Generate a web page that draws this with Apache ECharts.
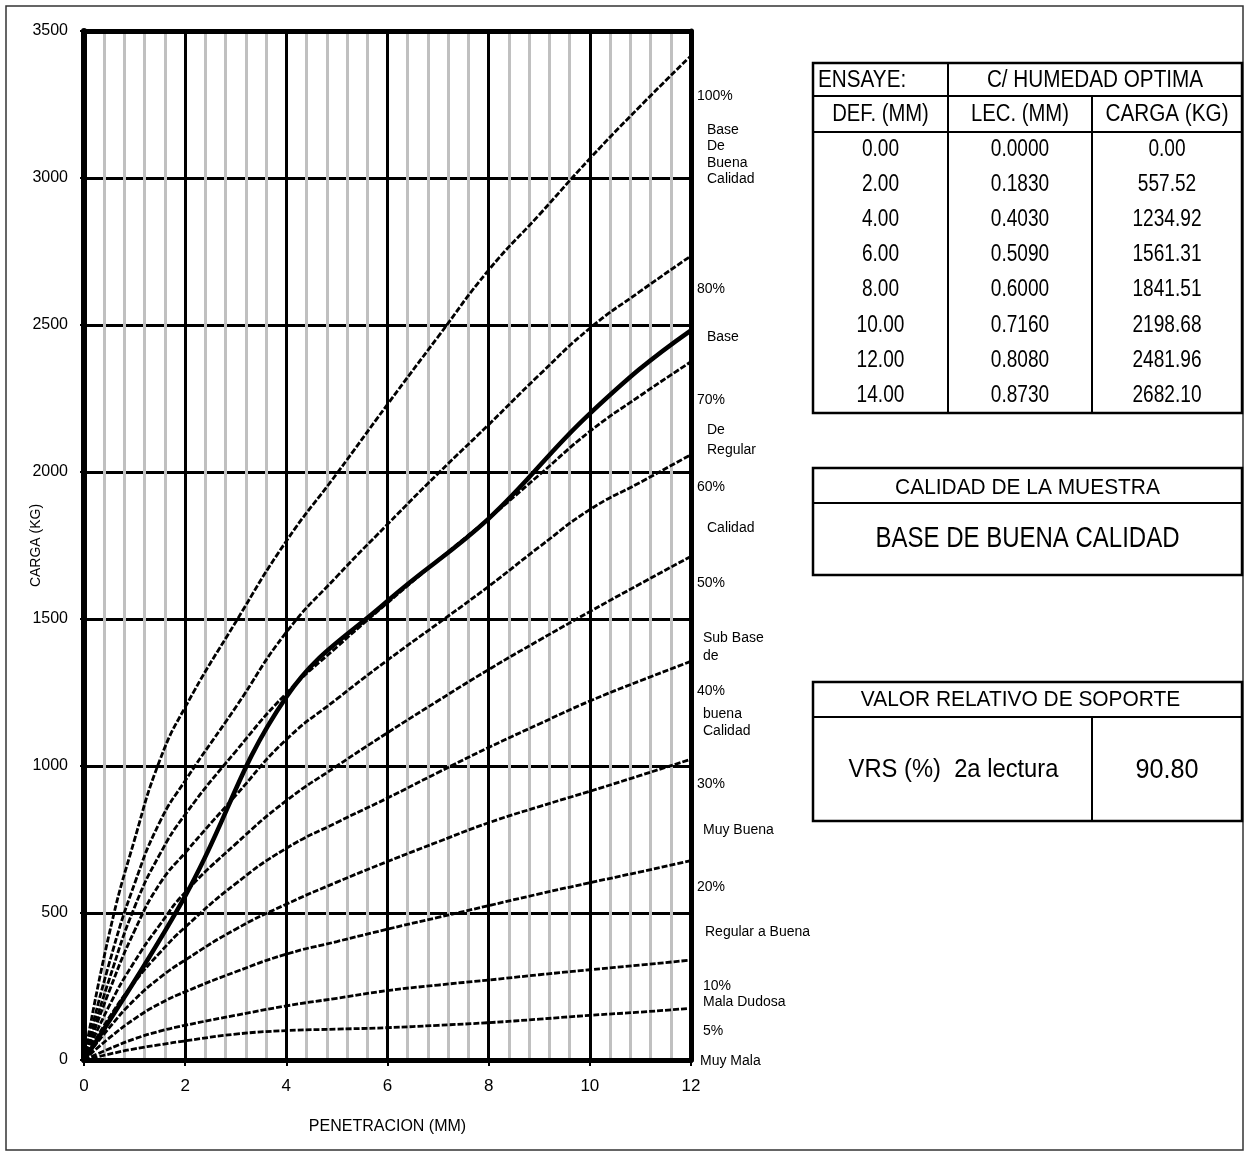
<!DOCTYPE html>
<html>
<head>
<meta charset="utf-8">
<script src="https://cdn.jsdelivr.net/npm/echarts@6/dist/echarts.min.js"></script>
<style>
html,body{margin:0;padding:0;background:#fff;}
#c{width:1249px;height:1156px;}
</style>
</head>
<body>
<div id="c"></div>
<script>
// ---------- DATA ----------
const penetracion = [0, 0.5, 1, 1.5, 2, 3, 4, 5, 6, 7, 8, 9, 10, 11, 12];
const curva100 = [0, 430, 750, 1020, 1200, 1490, 1765, 1995, 2230, 2460, 2687, 2875, 3066, 3245, 3416];
const curva80  = [0, 330, 600, 810, 950, 1200, 1455, 1645, 1822, 1995, 2161, 2330, 2489, 2615, 2735];
const curva70  = [0, 275, 520, 700, 835, 1050, 1247, 1405, 1555, 1700, 1842, 1990, 2138, 2260, 2375];
const curva60  = [0, 235, 440, 600, 705, 900, 1090, 1228, 1360, 1485, 1611, 1745, 1872, 1965, 2059];
const curva50  = [0, 185, 335, 460, 570, 735, 882, 1000, 1113, 1222, 1328, 1428, 1525, 1620, 1713];
const curva40  = [0, 145, 265, 365, 452, 600, 720, 808, 891, 978, 1063, 1143, 1221, 1290, 1356];
const curva30  = [0, 110, 205, 280, 340, 445, 530, 605, 675, 742, 807, 862, 914, 968, 1023];
const curva20  = [0, 75, 140, 192, 232, 300, 360, 403, 445, 485, 525, 565, 603, 640, 678];
const curva10  = [0, 38, 72, 98, 118, 152, 184, 210, 236, 255, 272, 290, 307, 323, 340];
const curva5   = [0, 20, 38, 52, 65, 88, 100, 105, 110, 118, 127, 139, 152, 163, 176];

const defMM   = [0, 2, 4, 6, 8, 10, 12, 14];
const lecMM   = [0.0000, 0.1830, 0.4030, 0.5090, 0.6000, 0.7160, 0.8080, 0.8730];
const cargaKG = [0.00, 557.52, 1234.92, 1561.31, 1841.51, 2198.68, 2481.96, 2682.10];

const ensaye = 'C/ HUMEDAD OPTIMA';
const calidad = 'BASE DE BUENA CALIDAD';
const vrs = '90.80';

const xTitle = 'PENETRACION (MM)';
const yTitle = 'CARGA (KG)';

// ---------- LAYOUT / STYLE ----------
const FONT = "'Liberation Sans',Arial,sans-serif";
const chart = echarts.init(document.getElementById('c'), null, {renderer:'canvas'});

const refCurves = [curva100, curva80, curva70, curva60, curva50, curva40, curva30, curva20, curva10, curva5];
const series = refCurves.map(arr => ({
  type:'line', smooth:true, symbol:'none', silent:true, z:5, clip:true,
  xAxisIndex:0, yAxisIndex:0,
  lineStyle:{color:'#000', width:2.8, type:[6,2]},
  data: penetracion.map((x,i)=>[x, arr[i]])
}));
series.push({
  type:'line', smooth:0.4, symbol:'none', silent:true, z:6, clip:true,
  xAxisIndex:0, yAxisIndex:0,
  lineStyle:{color:'#000', width:4.5},
  data: defMM.map((d,i)=>[d, cargaKG[i]])
});

// right-side labels (text, left x, center y)
const sideLabels = [
  ['100%',697,96],['Base',707,130],['De',707,146],['Buena',707,163],['Calidad',707,179],
  ['80%',697,289],['Base',707,337],['70%',697,400],['De',707,430],['Regular',707,450],
  ['60%',697,487],['Calidad',707,528],['50%',697,583],['Sub Base',703,638],['de',703,656],
  ['40%',697,691],['buena',703,714],['Calidad',703,731],['30%',697,784],['Muy Buena',703,830],
  ['20%',697,887],['Regular a Buena',705,932],['10%',703,986],['Mala Dudosa',703,1002],
  ['5%',703,1031],['Muy Mala',700,1061]
];

const g = [];
function txt(t,x,y,size,align,sx){
  g.push({type:'text', z:10, x:x, y:y, scaleX:sx||1, scaleY:1,
    style:{text:t, x:0, y:0, fill:'#000', font:size+'px '+FONT,
    textAlign:align||'center', textVerticalAlign:'middle', align:align||'center', verticalAlign:'middle'}});
}
function ln(x1,y1,x2,y2,w){
  g.push({type:'line', z:10, shape:{x1:x1,y1:y1,x2:x2,y2:y2}, style:{stroke:'#000', lineWidth:w||2}});
}
function box(x,y,w,h,lw){
  g.push({type:'rect', z:10, shape:{x:x,y:y,width:w,height:h}, style:{fill:'none', stroke:'#000', lineWidth:lw||2}});
}
// outer frame
g.push({type:'rect', z:0, shape:{x:6,y:6,width:1237,height:1144}, style:{fill:'none', stroke:'#333', lineWidth:1.5}});

sideLabels.forEach(s=>txt(s[0], s[1], s[2], 14, 'left', 1));

// table 1
const L=813, C1=948, C2=1092, R=1242;
box(L,63,R-L,413-63,2.5);
ln(L,96,R,96,2); ln(L,132,R,132,2);
ln(C1,63,C1,413,2); ln(C2,96,C2,413,2);
txt('ENSAYE:', 818, 81, 23, 'left', 0.9);
txt(ensaye, (C1+R)/2, 81, 23, 'center', 0.9);
txt('DEF. (MM)', (L+C1)/2, 115, 23, 'center', 0.88);
txt('LEC. (MM)', (C1+C2)/2, 115, 23, 'center', 0.88);
txt('CARGA (KG)', (C2+R)/2, 115, 23, 'center', 0.9);
const rowH = (413-132)/defMM.length;
defMM.forEach((d,i)=>{
  const y = 132 + rowH*(i+0.5);
  txt(d.toFixed(2), (L+C1)/2, y, 23, 'center', 0.83);
  txt(lecMM[i].toFixed(4), (C1+C2)/2, y, 23, 'center', 0.83);
  txt(cargaKG[i].toFixed(2), (C2+R)/2, y, 23, 'center', 0.83);
});
// table 2
box(L,468,R-L,575-468,2.5); ln(L,503,R,503,2);
txt('CALIDAD DE LA MUESTRA', (L+R)/2, 488, 22, 'center', 0.95);
txt(calidad, (L+R)/2, 539, 30, 'center', 0.8);
// table 3
box(L,682,R-L,821-682,2.5); ln(L,717,R,717,2); ln(C2,717,C2,821,2);
txt('VALOR RELATIVO DE SOPORTE', (L+R)/2-7, 700, 22, 'center', 0.95);
txt('VRS (%)  2a lectura', (L+C2)/2+1, 770, 25, 'center', 0.95);
txt(vrs, (C2+R)/2, 770, 28, 'center', 0.9);

const option = {
  animation:false,
  backgroundColor:'#fff',
  grid:{left:84, top:31, width:607, height:1029, containLabel:false},
  xAxis:[
    {type:'value', min:0, max:12, interval:2, position:'bottom', z:3,
     axisLine:{show:true, onZero:false, lineStyle:{color:'#000', width:5}},
     axisTick:{show:true, length:6, lineStyle:{color:'#000', width:2}},
     axisLabel:{color:'#000', fontSize:17, fontFamily:FONT, margin:18},
     splitLine:{show:true, lineStyle:{color:'#000', width:3}},
     name:xTitle, nameLocation:'middle', nameGap:59, nameMoveOverlap:false,
     nameTextStyle:{color:'#000', fontSize:16, fontFamily:FONT}},
    {type:'value', min:0, max:12, interval:0.4, position:'bottom', z:2,
     axisLine:{show:false}, axisTick:{show:false}, axisLabel:{show:false},
     splitLine:{show:true, lineStyle:{color:'#c0c0c0', width:3}}},
    {type:'value', min:0, max:12, interval:2, position:'top', z:4,
     axisLine:{show:true, onZero:false, lineStyle:{color:'#000', width:5}},
     axisTick:{show:false}, axisLabel:{show:false}, splitLine:{show:false}}
  ],
  yAxis:[
    {type:'value', min:0, max:3500, interval:500, position:'left', z:1,
     axisLine:{show:false}, axisTick:{show:false},
     axisLabel:{color:'#000', fontSize:16, fontFamily:FONT, margin:16, formatter:v=>String(v)},
     splitLine:{show:true, lineStyle:{color:'#000', width:3}},
     name:yTitle, nameLocation:'middle', nameGap:41, nameMoveOverlap:false,
     nameTextStyle:{color:'#000', fontSize:14, fontFamily:FONT}},
    {type:'value', min:0, max:3500, interval:500, position:'left', z:4,
     axisLine:{show:true, onZero:false, lineStyle:{color:'#000', width:6}},
     axisTick:{show:true, length:4, lineStyle:{color:'#000', width:2}},
     axisLabel:{show:false}, splitLine:{show:false}},
    {type:'value', min:0, max:3500, interval:500, position:'right', z:4,
     axisLine:{show:true, onZero:false, lineStyle:{color:'#000', width:5}},
     axisTick:{show:false}, axisLabel:{show:false}, splitLine:{show:false}}
  ],
  series: series,
  graphic: g
};
chart.setOption(option);
</script>
</body>
</html>
